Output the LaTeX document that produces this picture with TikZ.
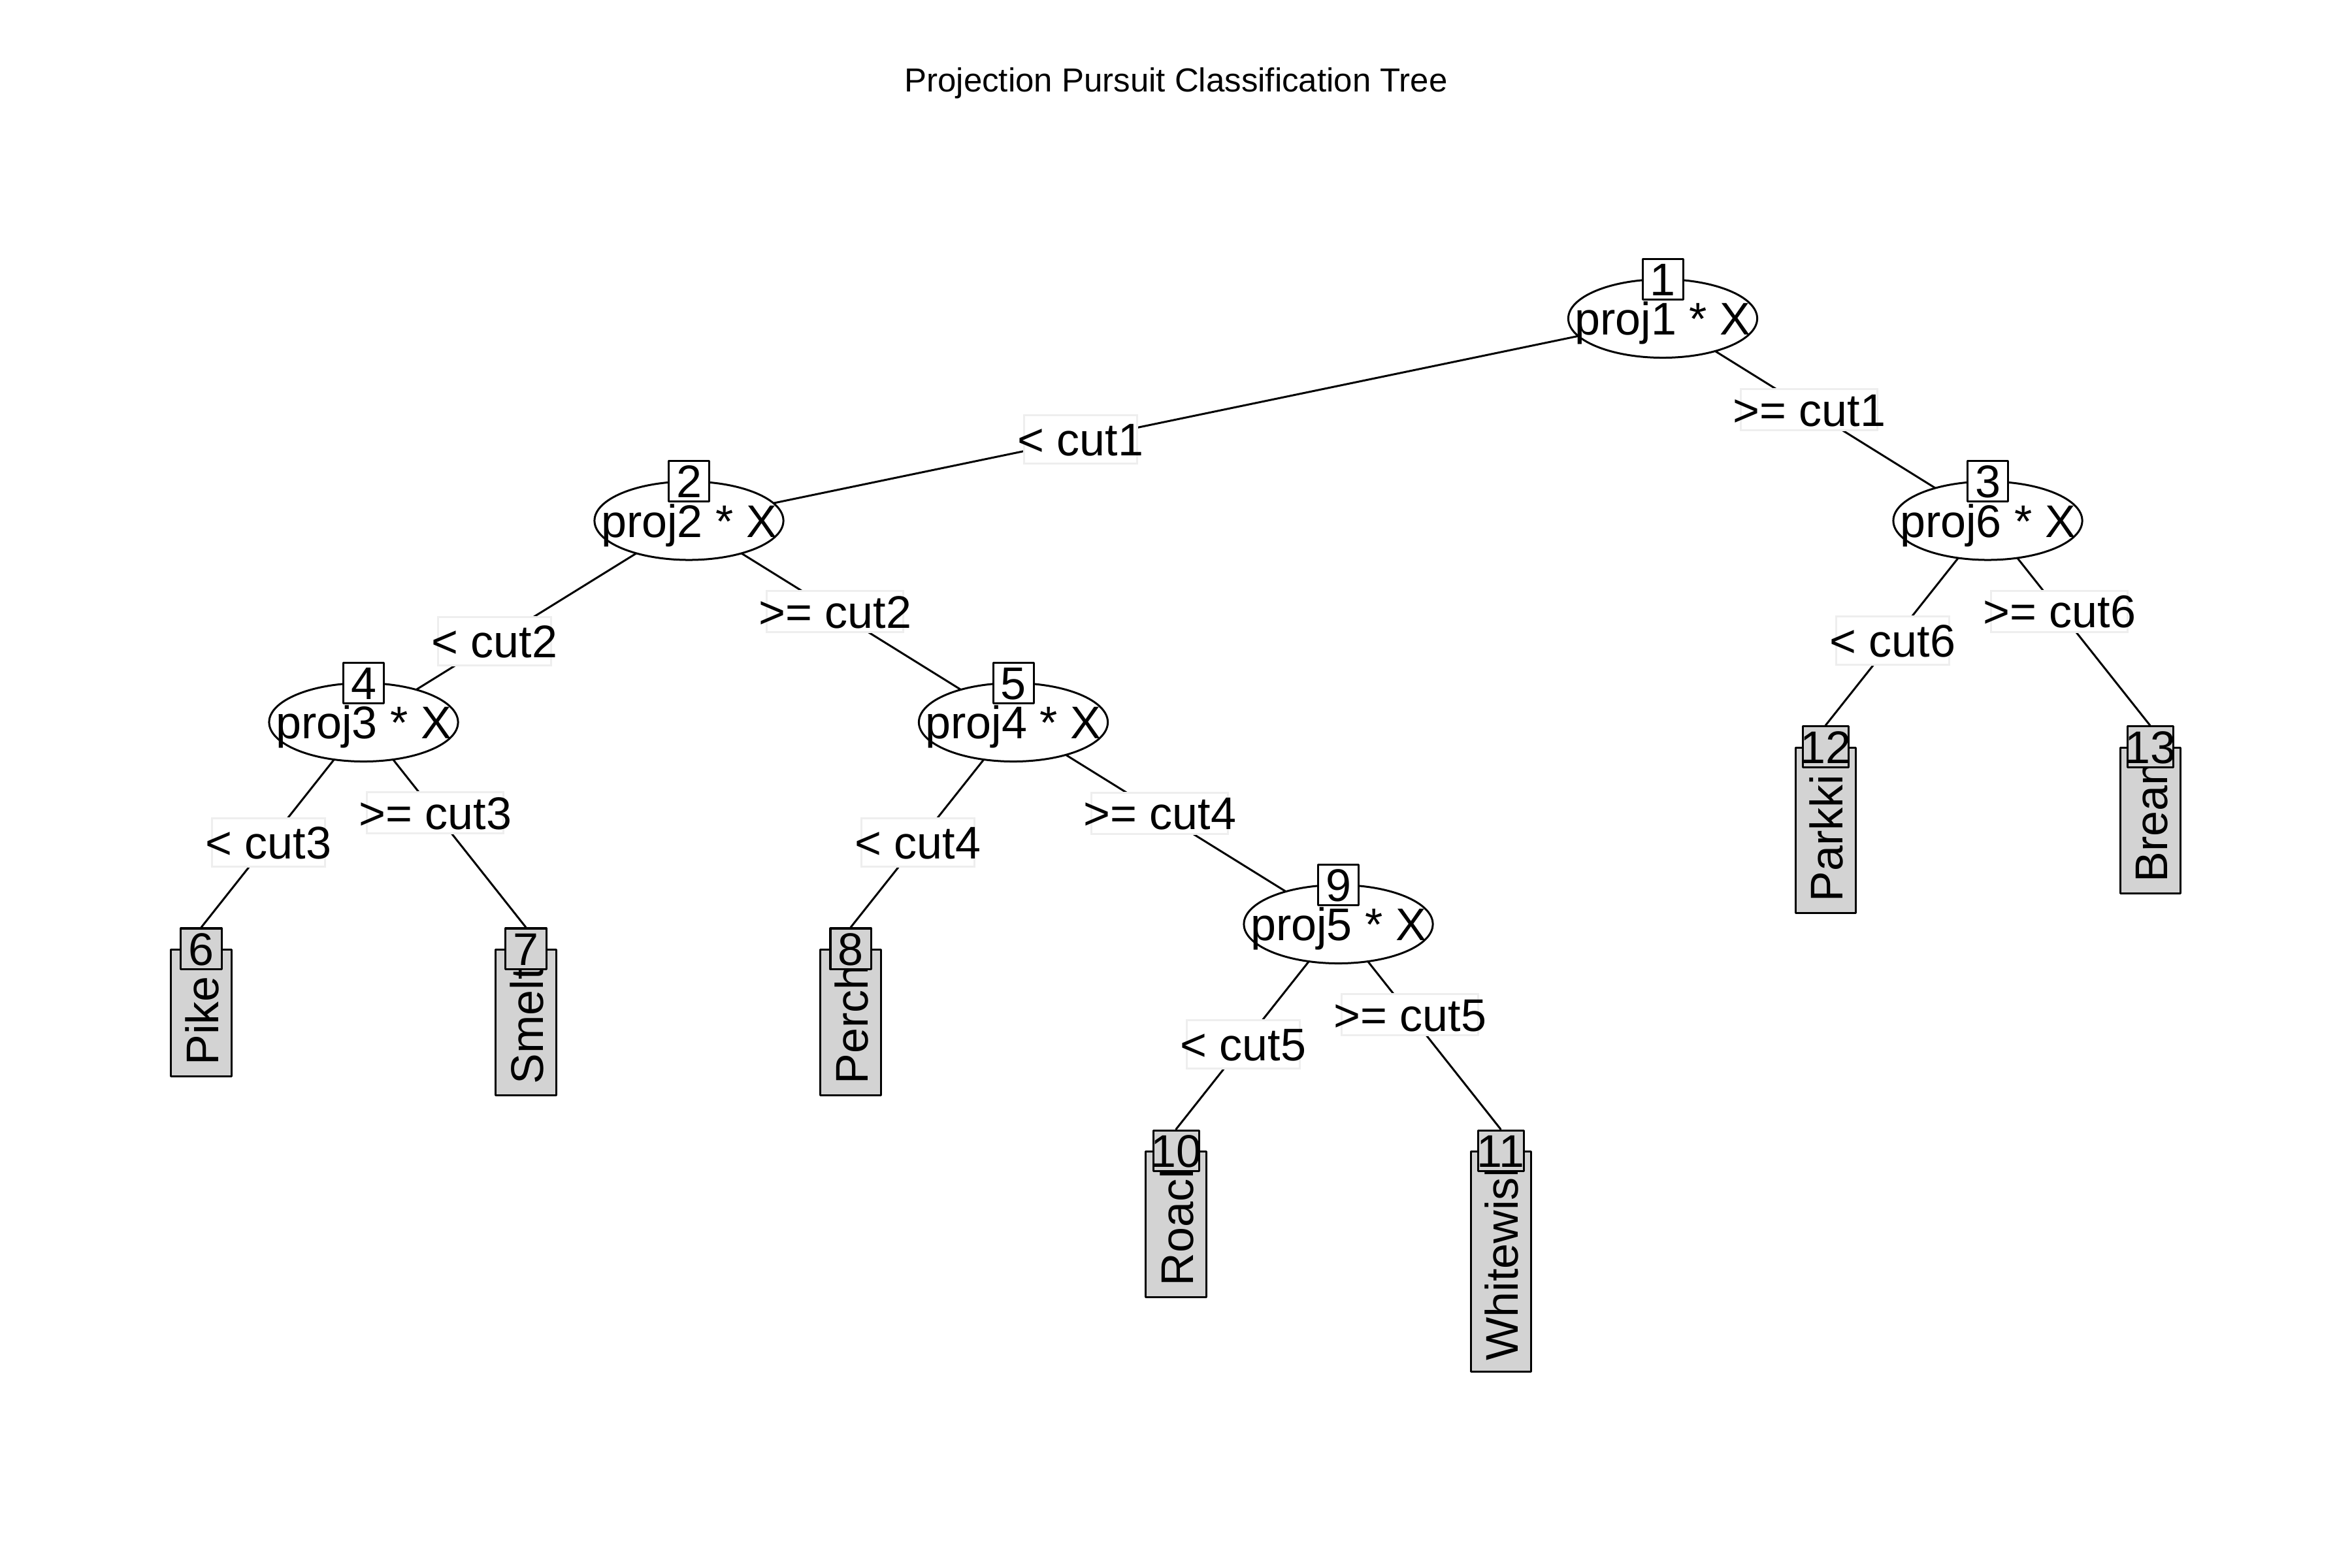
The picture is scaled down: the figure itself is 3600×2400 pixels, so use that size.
\documentclass[tikz,border=0pt]{standalone}
\usepackage{fontspec}
\setmainfont{Liberation Sans}
\usetikzlibrary{shapes.geometric,calc}
\definecolor{leafgrey}{HTML}{D3D3D3}
\definecolor{labgrey}{HTML}{EEEEEE}
\pgfdeclarelayer{bgfill}
\pgfdeclarelayer{edges}
\pgfsetlayers{bgfill,edges,main}
\newcommand\nodefont{\fontsize{19.92pt}{24pt}\selectfont}
\newcommand\mytxt[1]{\smash{\raisebox{-0.25cm}{\makebox[0pt]{#1}}}}
\tikzset{
  every node/.style={font=\nodefont},
  edge/.style={line width=0.03cm, line cap=round},
  split/.style={ellipse, draw, line width=0.03cm, fill=white,
    minimum width=2.89cm, minimum height=1.2cm, inner sep=0pt, outer sep=0pt},
  idbox/.style={draw, line width=0.03cm, fill=white, line join=round,
    minimum width=0.62cm, minimum height=0.62cm, inner sep=0pt},
  leafbox/.style={draw, line width=0.03cm, fill=leafgrey, line join=round,
    minimum width=0.92cm, inner sep=0pt, anchor=north},
  leaftext/.style={rotate=90, anchor=base west, inner sep=0pt},
  ltlab/.style={draw=labgrey, line width=0.03cm, fill=white,
    minimum width=1.73cm, minimum height=0.74cm, inner sep=0pt},
  gelab/.style={draw=labgrey, line width=0.03cm, fill=white,
    minimum width=2.09cm, minimum height=0.63cm, inner sep=0pt},
}
% #1 name, #2 x, #3 y, #4 id, #5 label, #6 rect height (cm), #7 id box width (cm)
\newcommand\leafnode[7]{%
  \node[leafbox, minimum height=#6cm] (#1rect) at (#2,#3) {};
  \node[leaftext] (#1txt) at ($(#1rect.south)+(26,-18)$) {#5};
  \node[idbox, fill=leafgrey, minimum width=#7cm] (#1) at (#2,#3) {\mytxt{#4}};
}
\begin{document}
\begin{tikzpicture}[x=0.01cm, y=-0.01cm]
\useasboundingbox (0,0) rectangle (3600,2400);
\begin{pgfonlayer}{bgfill}
  \fill[white] (0,0) rectangle (3600,2400);
\end{pgfonlayer}

\node[font=\fontsize{14.5pt}{17pt}\selectfont, anchor=base, inner sep=0pt] (title)
  at (1800,140) {Projection Pursuit Classification Tree};

% inner nodes
\node[split] (n1) at (2545,487.5) {\mytxt{proj1 * X}};
\node[idbox] (id1) at (n1.north) {\mytxt{1}};
\node[split] (n2) at (1054.5,797) {\mytxt{proj2 * X}};
\node[idbox] (id2) at (n2.north) {\mytxt{2}};
\node[split] (n3) at (3042.5,797) {\mytxt{proj6 * X}};
\node[idbox] (id3) at (n3.north) {\mytxt{3}};
\node[split] (n4) at (556.5,1105.5) {\mytxt{proj3 * X}};
\node[idbox] (id4) at (n4.north) {\mytxt{4}};
\node[split] (n5) at (1551,1105.5) {\mytxt{proj4 * X}};
\node[idbox] (id5) at (n5.north) {\mytxt{5}};
\node[split] (n9) at (2048.5,1414.5) {\mytxt{proj5 * X}};
\node[idbox] (id9) at (n9.north) {\mytxt{9}};

% leaves
\leafnode{l6}{308}{1452}{6}{Pike}{1.94}{0.62}
\leafnode{l7}{805}{1452}{7}{Smelt}{2.23}{0.62}
\leafnode{l8}{1302}{1452}{8}{Perch}{2.23}{0.62}
\leafnode{l10}{1800}{1761}{10}{Roach}{2.23}{0.70}
\leafnode{l11}{2297}{1761}{11}{Whitewish}{3.37}{0.70}
\leafnode{l12}{2794}{1143}{12}{Parkki}{2.53}{0.70}
\leafnode{l13}{3291}{1143}{13}{Bream}{2.23}{0.70}

% edges
\begin{pgfonlayer}{edges}
  \draw[edge] (n1) -- (n2);
  \draw[edge] (n1) -- (n3);
  \draw[edge] (n2) -- (n4);
  \draw[edge] (n2) -- (n5);
  \draw[edge] (n3) -- (l12.north);
  \draw[edge] (n3) -- (l13.north);
  \draw[edge] (n4) -- (l6.north);
  \draw[edge] (n4) -- (l7.north);
  \draw[edge] (n5) -- (l8.north);
  \draw[edge] (n5) -- (n9);
  \draw[edge] (n9) -- (l10.north);
  \draw[edge] (n9) -- (l11.north);
\end{pgfonlayer}

% edge labels
\node[ltlab] (e12) at ($(n1)!0.598!(n2)$) {\mytxt{< cut1}};
\node[gelab] (e13) at ($(n1)!0.4507!(n3)$) {\mytxt{>= cut1}};
\node[ltlab] (e24) at ($(n2)!0.598!(n4)$) {\mytxt{< cut2}};
\node[gelab] (e25) at ($(n2)!0.4507!(n5)$) {\mytxt{>= cut2}};
\node[ltlab] (e312) at ($(n3)!0.5864!(l12.north)$) {\mytxt{< cut6}};
\node[gelab] (e313) at ($(n3)!0.4422!(l13.north)$) {\mytxt{>= cut6}};
\node[ltlab] (e46) at ($(n4)!0.5864!(l6.north)$) {\mytxt{< cut3}};
\node[gelab] (e47) at ($(n4)!0.4422!(l7.north)$) {\mytxt{>= cut3}};
\node[ltlab] (e58) at ($(n5)!0.5864!(l8.north)$) {\mytxt{< cut4}};
\node[gelab] (e59) at ($(n5)!0.4507!(n9)$) {\mytxt{>= cut4}};
\node[ltlab] (e910) at ($(n9)!0.5864!(l10.north)$) {\mytxt{< cut5}};
\node[gelab] (e911) at ($(n9)!0.4422!(l11.north)$) {\mytxt{>= cut5}};
\end{tikzpicture}
\end{document}
